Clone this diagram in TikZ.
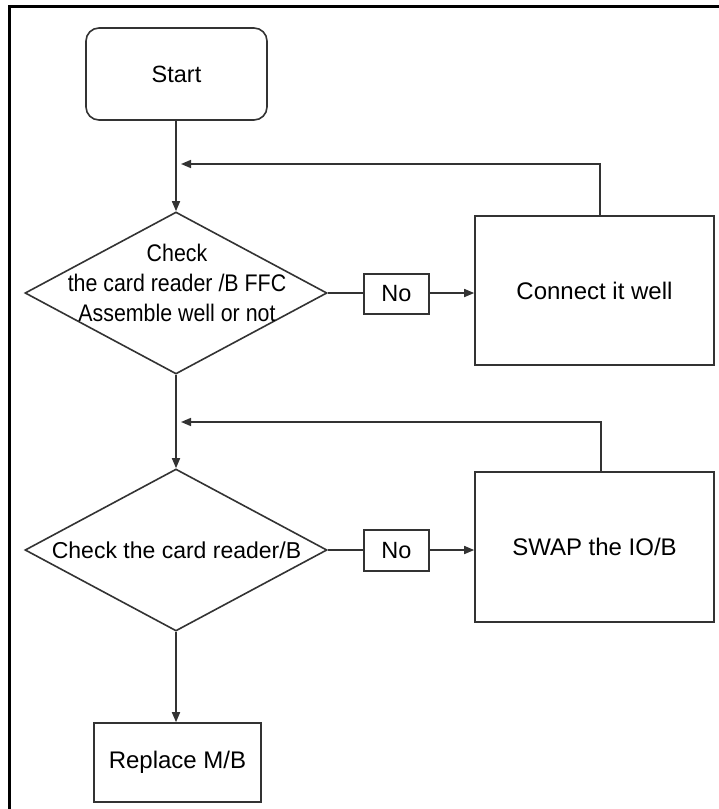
\documentclass[tikz,border=0pt]{standalone}
\usepackage{fontspec}
\setmainfont{Liberation Sans}
\newfontfamily\narrowsans[FakeStretch=0.89]{Liberation Sans}
\usetikzlibrary{shapes.geometric,arrows.meta}
\definecolor{ln}{HTML}{333333}
\begin{document}
\begin{tikzpicture}[x=1pt,y=-1pt,
  every node/.style={font=\fontsize{24}{30}\selectfont, text=black},
  box/.style={draw=ln, line width=1.6pt, inner sep=0pt, rectangle},
  dia/.style={draw=ln, line width=1.6pt, inner sep=0pt, diamond},
  conn/.style={draw=ln, line width=1.6pt},
  arr/.style={conn, -{Triangle[length=10pt,width=8pt]}}]
\useasboundingbox (0,0) rectangle (719,809);
\fill[white] (0,0) rectangle (719,809);
\draw[line width=3.5pt] (9.3,812) -- (9.3,6.3) -- (722,6.3);

\node[box, rounded corners=13pt, minimum width=181pt, minimum height=92pt, font=\fontsize{23.5}{30}\selectfont] (start) at (176.5,74) {Start};

\node[dia, minimum width=302pt, minimum height=162pt] (d1) at (176,293) {};
\node[align=center, inner sep=0pt, font=\narrowsans\fontsize{24}{30}\selectfont] (d1txt) at (177,283) {Check\\the card reader /B FFC\\Assemble well or not};
\node[box, minimum width=65pt, minimum height=40pt, font=\fontsize{23.5}{30}\selectfont] (no1) at (396.5,294) {No};
\node[box, minimum width=239pt, minimum height=149pt] (c1) at (594.5,290.5) {Connect it well};

\node[dia, minimum width=302pt, minimum height=162pt] (d2) at (176,550) {};
\node[inner sep=0pt, font=\fontsize{23}{30}\selectfont] (d2txt) at (176.5,550) {Check the card reader/B};
\node[box, minimum width=65pt, minimum height=41pt, font=\fontsize{23.5}{30}\selectfont] (no2) at (396.5,550.5) {No};
\node[box, minimum width=239pt, minimum height=150pt] (sw) at (594.5,547) {SWAP the IO/B};

\node[box, minimum width=167pt, minimum height=79pt] (rep) at (177.5,762.5) {Replace M/B};

\coordinate (j1) at (181,164);
\coordinate (j2) at (181,422);

\draw[arr] (start.south -| d1.north) -- (d1.north);
\draw[conn] (d1.east) -- (d1.east -| no1.west);
\draw[arr] (no1.east |- d1.east) -- (d1.east -| c1.west);
\draw[arr] ([xshift=5.5pt]c1.north) |- (j1);

\draw[arr] (d1.south) -- (d2.north);
\draw[conn] (d2.east) -- (d2.east -| no2.west);
\draw[arr] (no2.east |- d2.east) -- (d2.east -| sw.west);
\draw[arr] ([xshift=6.5pt]sw.north) |- (j2);

\draw[arr] (d2.south) -- (d2.south |- rep.north);
\end{tikzpicture}
\end{document}
